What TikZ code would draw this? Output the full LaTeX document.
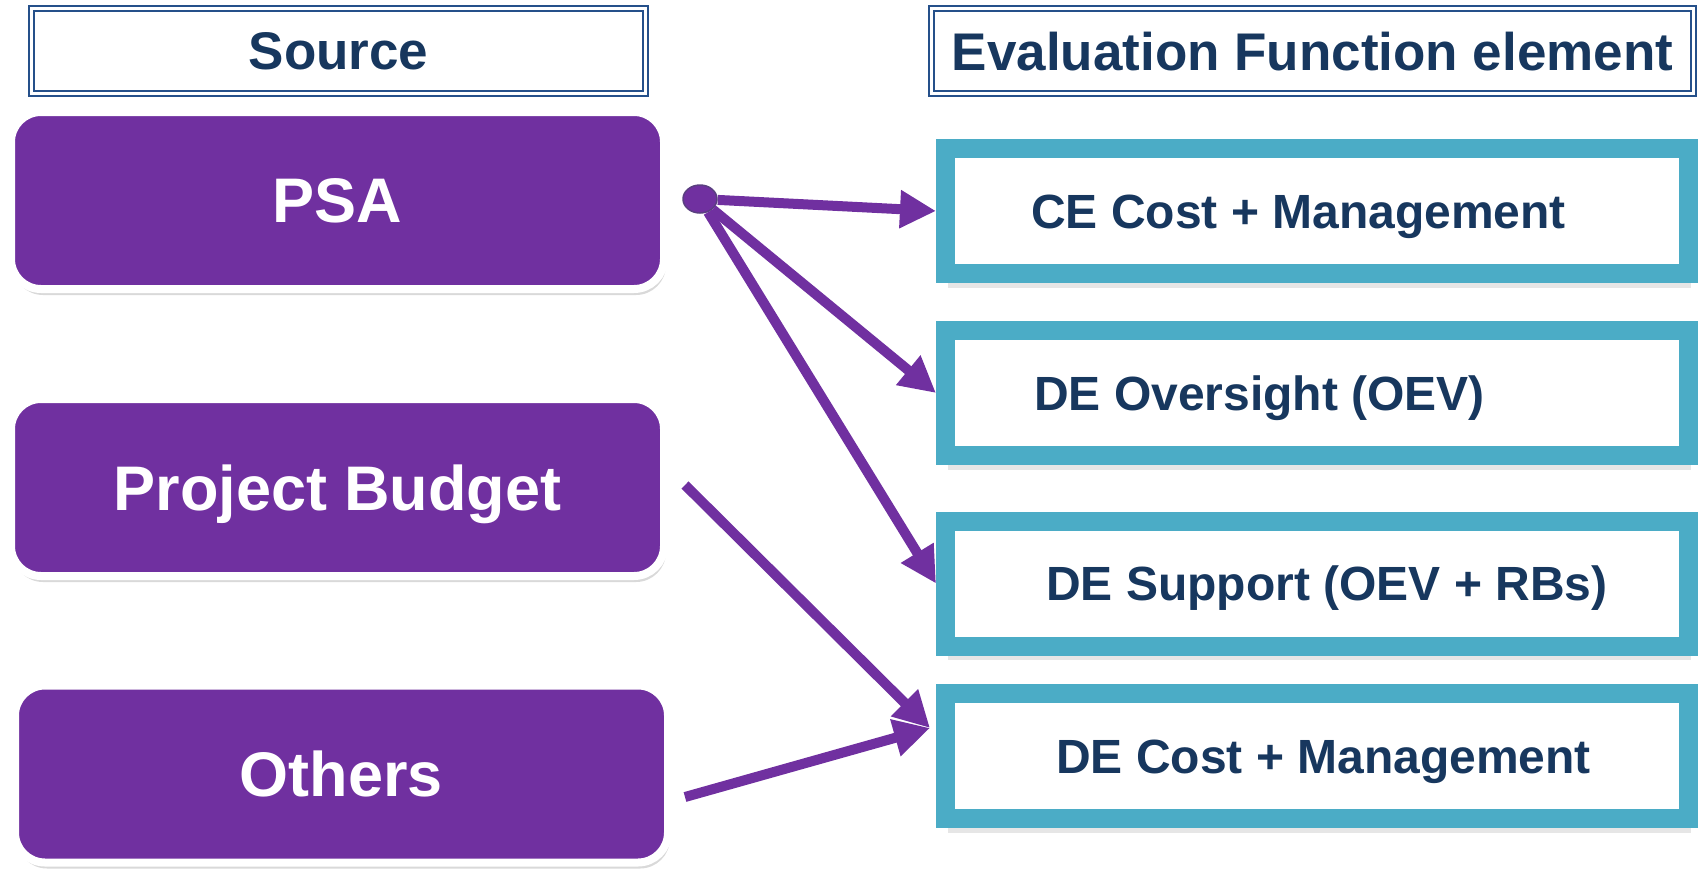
\documentclass[tikz,border=0pt]{standalone}
\usepackage{fontspec}
\setmainfont{Liberation Sans}
\usetikzlibrary{arrows.meta,shapes.geometric,shadows}
\definecolor{srcpurple}{HTML}{7030A0}
\definecolor{dotrim}{HTML}{5A3F80}
\definecolor{elemteal}{HTML}{4BACC6}
\definecolor{navytext}{HTML}{17375E}
\definecolor{hdrblue}{HTML}{25508A}
\begin{document}
\begin{tikzpicture}[x=1pt, y=1pt,
	header/.style={draw=hdrblue, double=white, double distance=3pt, line width=2pt, minimum height=85pt, inner sep=0pt, text depth=0pt, text=navytext, font=\fontsize{53}{60}\selectfont\bfseries},
	source/.style={rounded corners=30pt, fill=srcpurple, draw=white, line width=8pt, outer sep=4pt, minimum width=653pt, minimum height=177pt, text depth=0pt, text=white, font=\fontsize{63}{70}\selectfont\bfseries, drop shadow={opacity=0.3, shadow xshift=2pt, shadow yshift=-6pt}},
	element/.style={draw=elemteal, fill=white, line width=19pt, outer sep=9.5pt, minimum width=743pt, minimum height=125pt, inner sep=0pt, drop shadow={opacity=0.2, shadow xshift=2pt, shadow yshift=-14pt}},
	elemtext/.style={anchor=base west, inner sep=0pt, text=navytext, font=\fontsize{48}{54}\selectfont\bfseries},
	flow/.style={draw=srcpurple, line width=10pt, -{Triangle[length=36pt,width=36pt]}}]
	\useasboundingbox (0,0) rectangle (1698,-868);
	
	\node (srchead) [header, minimum width=614pt] at (338.5,-51) {Source};
	\node (elemhead) [header, minimum width=762pt] at (1312.5,-51) {Evaluation Function element};
	
	\node (psa) [source] at (337.5,-200.5) {PSA};
	\node (budget) [source] at (337.5,-487.5) {Project Budget};
	\node (others) [source] at (341.5,-774) {Others};
	
	\node (ce) [element] at (1317,-211) {};
	\node (deo) [element] at (1317,-393) {};
	\node (des) [element] at (1317,-583.5) {};
	\node (dec) [element] at (1317,-756) {};
	\node (cetext) [elemtext] at ([xshift=95pt,yshift=-17pt]ce.west) {CE Cost + Management};
	\node (deotext) [elemtext] at ([xshift=98pt,yshift=-17pt]deo.west) {DE Oversight (OEV)};
	\node (destext) [elemtext] at ([xshift=110pt,yshift=-17pt]des.west) {DE Support (OEV + RBs)};
	\node (dectext) [elemtext] at ([xshift=120pt,yshift=-17pt]dec.west) {DE Cost + Management};
	
	\node (psadot) [ellipse, fill=srcpurple, draw=dotrim, line width=1.5pt, minimum width=34pt, minimum height=28pt, inner sep=0pt] at (700,-199) {};
	\coordinate (dectip) at ([xshift=-6pt,yshift=28pt]dec.west);
	
	\draw [flow] (psadot) -- (ce.west);
	\draw [flow] (psadot) -- (deo.west);
	\draw [flow] (psadot) -- (des.west);
	\draw [flow] ([xshift=17pt,yshift=2.5pt]budget.east) -- (dectip);
	\draw [flow] ([xshift=13pt,yshift=-23pt]others.east) -- (dectip);
\end{tikzpicture}
\end{document}
